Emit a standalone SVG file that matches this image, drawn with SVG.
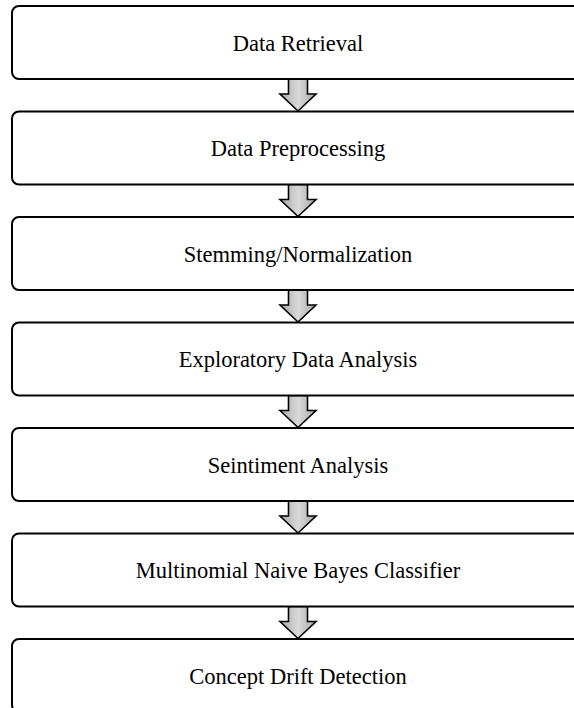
<svg xmlns="http://www.w3.org/2000/svg" width="574" height="708" viewBox="0 0 574 708">
<defs>
<linearGradient id="ag" x1="0" y1="0" x2="1" y2="0">
<stop offset="0" stop-color="#a6a6a6"/>
<stop offset="0.5" stop-color="#d9d9d9"/>
<stop offset="1" stop-color="#a6a6a6"/>
</linearGradient>
<path id="arrow" d="M-9.5,0 H9.5 V15 H18 L0,32 L-18,15 H-9.5 Z"/>
</defs>
<style>
.box{fill:#fff;stroke:#000;stroke-width:2}
.lbl{font-family:"Liberation Serif","Times New Roman",serif;font-size:22.5px;fill:#000;text-anchor:middle}
.arr{fill:url(#ag);stroke:#000;stroke-width:1.6;stroke-linejoin:miter}
</style>
<rect width="574" height="708" fill="#fff"/>
<g id="connectors">
<use href="#arrow" class="arr" x="298" y="79"/>
<use href="#arrow" class="arr" x="298" y="184.5"/>
<use href="#arrow" class="arr" x="298" y="290"/>
<use href="#arrow" class="arr" x="298" y="395.5"/>
<use href="#arrow" class="arr" x="298" y="501"/>
<use href="#arrow" class="arr" x="298" y="606.5"/>
</g>
<g id="n1"><rect class="box" x="12" y="6" width="572" height="73" rx="7"/><text class="lbl" x="298" y="50.5">Data Retrieval</text></g>
<g id="n2"><rect class="box" x="12" y="111.5" width="572" height="73" rx="7"/><text class="lbl" x="298" y="156">Data Preprocessing</text></g>
<g id="n3"><rect class="box" x="12" y="217" width="572" height="73" rx="7"/><text class="lbl" x="298" y="261.5">Stemming/Normalization</text></g>
<g id="n4"><rect class="box" x="12" y="322.5" width="572" height="73" rx="7"/><text class="lbl" x="298" y="367">Exploratory Data Analysis</text></g>
<g id="n5"><rect class="box" x="12" y="428" width="572" height="73" rx="7"/><text class="lbl" x="298" y="472.5">Seintiment Analysis</text></g>
<g id="n6"><rect class="box" x="12" y="533.5" width="572" height="73" rx="7"/><text class="lbl" x="298" y="578">Multinomial Naive Bayes Classifier</text></g>
<g id="n7"><rect class="box" x="12" y="639" width="572" height="73" rx="7"/><text class="lbl" x="298" y="683.5">Concept Drift Detection</text></g>
</svg>
